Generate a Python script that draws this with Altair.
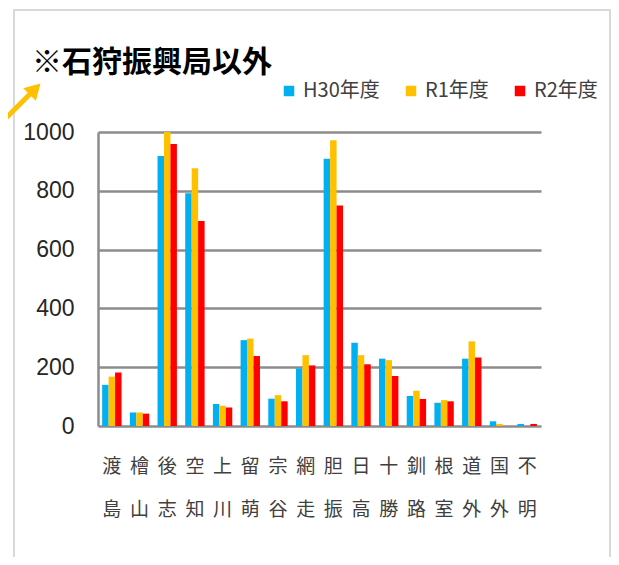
import altair as alt
import pandas as pd

regions = ["渡島", "檜山", "後志", "空知", "上川", "留萌", "宗谷", "網走",
           "胆振", "日高", "十勝", "釧路", "根室", "道外", "国外", "不明"]
series = ["H30年度", "R1年度", "R2年度"]
h30 = [140, 46, 918, 792, 75, 292, 93, 196, 909, 283, 229, 102, 79, 229, 16, 7]
r1 = [168, 46, 1000, 877, 69, 297, 105, 241, 972, 241, 224, 120, 88, 288, 7, 0]
r2 = [182, 42, 959, 697, 63, 238, 84, 206, 750, 210, 170, 92, 84, 233, 0, 7]
y_ticks = [0, 200, 400, 600, 800, 1000]
colors = ["#00B0F0", "#FFC000", "#FF0000"]
title_text = "※石狩振興局以外"

rows = []
for name, vals in zip(series, [h30, r1, r2]):
    for reg, v in zip(regions, vals):
        rows.append({"region": reg, "series": name, "value": v})
df = pd.DataFrame(rows)

JP = "Noto Sans CJK JP"

bars = alt.Chart(df).mark_bar().encode(
    x=alt.X("region:N", sort=regions, title=None,
            scale=alt.Scale(paddingInner=0.3, paddingOuter=0.15),
            axis=alt.Axis(labelAngle=0, labelExpr="split(datum.label, '')",
                          labelLineHeight=43, labelFontSize=19, labelFont=JP,
                          labelColor="#404040", ticks=False, domain=False,
                          labelPadding=31, grid=False)),
    xOffset=alt.XOffset("series:N", sort=series),
    y=alt.Y("value:Q", title=None,
            scale=alt.Scale(domain=[0, 1000], nice=False),
            axis=alt.Axis(values=y_ticks, format="d", labelFontSize=23,
                          labelFont="Liberation Sans",
                          labelColor="#262626", ticks=False, domain=True,
                          domainColor="#8c8c8c", domainWidth=2.5,
                          gridColor="#8c8c8c", gridWidth=2.5, labelPadding=24)),
    color=alt.Color("series:N", sort=series,
                    scale=alt.Scale(domain=series, range=colors),
                    legend=alt.Legend(title=None, orient="none", legendX=181, legendY=-51,
                                      direction="horizontal", symbolType="square",
                                      symbolSize=110, labelFontSize=20, labelFont=JP,
                                      labelColor="#404040", columnPadding=21,
                                      labelOffset=4, symbolStrokeWidth=0)),
)

deco = alt.Chart(alt.Data(values=[{"t": title_text}]))
frame = deco.mark_rect(fill="transparent", stroke="#d9d9d9", strokeWidth=2).encode(
    x=alt.value(-84), x2=alt.value(512), y=alt.value(-122), y2=alt.value(480))
title = deco.mark_text(align="left", baseline="alphabetic", fontSize=30,
                       fontWeight="bold", font=JP, color="#000000").encode(
    text="t:N", x=alt.value(-66), y=alt.value(-60))
arrow_line = deco.mark_rule(color="#FFC000", strokeWidth=5).encode(
    x=alt.value(-100), x2=alt.value(-64), y=alt.value(-6), y2=alt.value(-42))
arrow_head = deco.mark_point(shape="triangle-up", filled=True, size=320, angle=45,
                             color="#FFC000", opacity=1).encode(
    x=alt.value(-63), y=alt.value(-43))

chart = alt.layer(frame, bars, title, arrow_line, arrow_head).properties(
    width=443, height=294,
    autosize=alt.AutoSizeParams(type="none"),
    padding={"left": 90, "top": 124, "right": 70, "bottom": 131},
).configure_view(stroke=None)

chart.save("out.html", embed_options={"renderer": "svg", "actions": False})
